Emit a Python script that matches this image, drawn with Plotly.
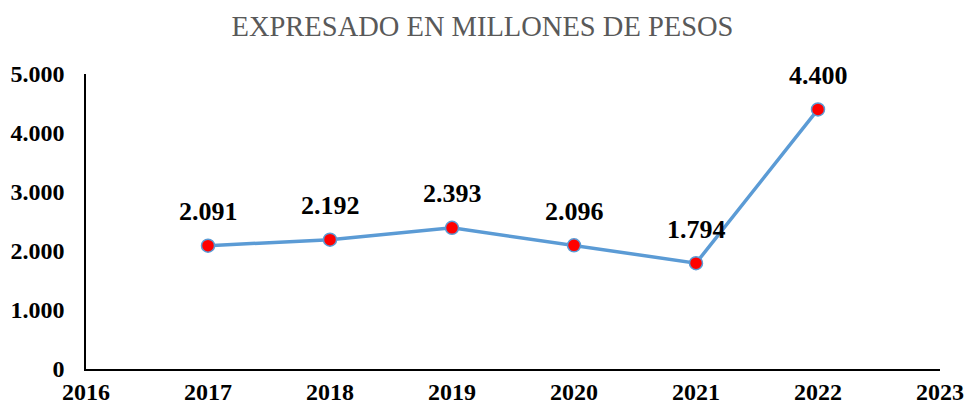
import plotly.graph_objects as go

years = [2017, 2018, 2019, 2020, 2021, 2022]
values = [2091, 2192, 2393, 2096, 1794, 4400]
x_ticks = [2016, 2017, 2018, 2019, 2020, 2021, 2022, 2023]
y_ticks = [0, 1000, 2000, 3000, 4000, 5000]
title_text = "EXPRESADO EN MILLONES DE PESOS"

FONT = "Liberation Serif"

fig = go.Figure()
fig.add_trace(go.Scatter(
    x=years, y=values, mode="lines+markers",
    line=dict(color="#5B9BD5", width=3.5),
    marker=dict(size=13, color="#FF0000", line=dict(color="#5B9BD5", width=1.5)),
    hoverinfo="skip", showlegend=False, cliponaxis=False,
))

for xv, yv in zip(years, values):
    fig.add_annotation(
        x=xv, y=yv, xref="x", yref="y",
        text=f"{yv:,}".replace(",", "."),
        showarrow=False, yanchor="middle", yshift=34,
        font=dict(family=FONT, size=26, color="#000000", weight="bold"),
    )

fig.update_layout(
    width=965, height=406,
    margin=dict(l=86, r=25, t=74, b=37),
    paper_bgcolor="white", plot_bgcolor="white",
    separators=",.",
    title=dict(text=title_text, x=0.5, xref="container", xanchor="center",
               y=1 - 26 / 406, yref="container", yanchor="middle",
               font=dict(family=FONT, size=28.5, color="#595959")),
)
fig.update_xaxes(
    range=[2016, 2023], tickvals=x_ticks, ticktext=[str(v) for v in x_ticks],
    showgrid=False, zeroline=False, automargin=False,
    showline=True, linecolor="#000000", linewidth=1.5,
    ticks="", ticklabelstandoff=0,
    tickfont=dict(family=FONT, size=24, color="#000000", weight="bold"),
)
fig.update_yaxes(
    range=[0, 5000], tickvals=y_ticks, tickformat=",d",
    showgrid=False, zeroline=False, automargin=False,
    showline=True, linecolor="#000000", linewidth=1.5,
    ticks="", ticklabelstandoff=15,
    tickfont=dict(family=FONT, size=24, color="#000000", weight="bold"),
)

fig.write_html("out.html", config={"displayModeBar": False},
               post_script="document.body.style.margin='0';document.body.style.overflow='hidden';")
